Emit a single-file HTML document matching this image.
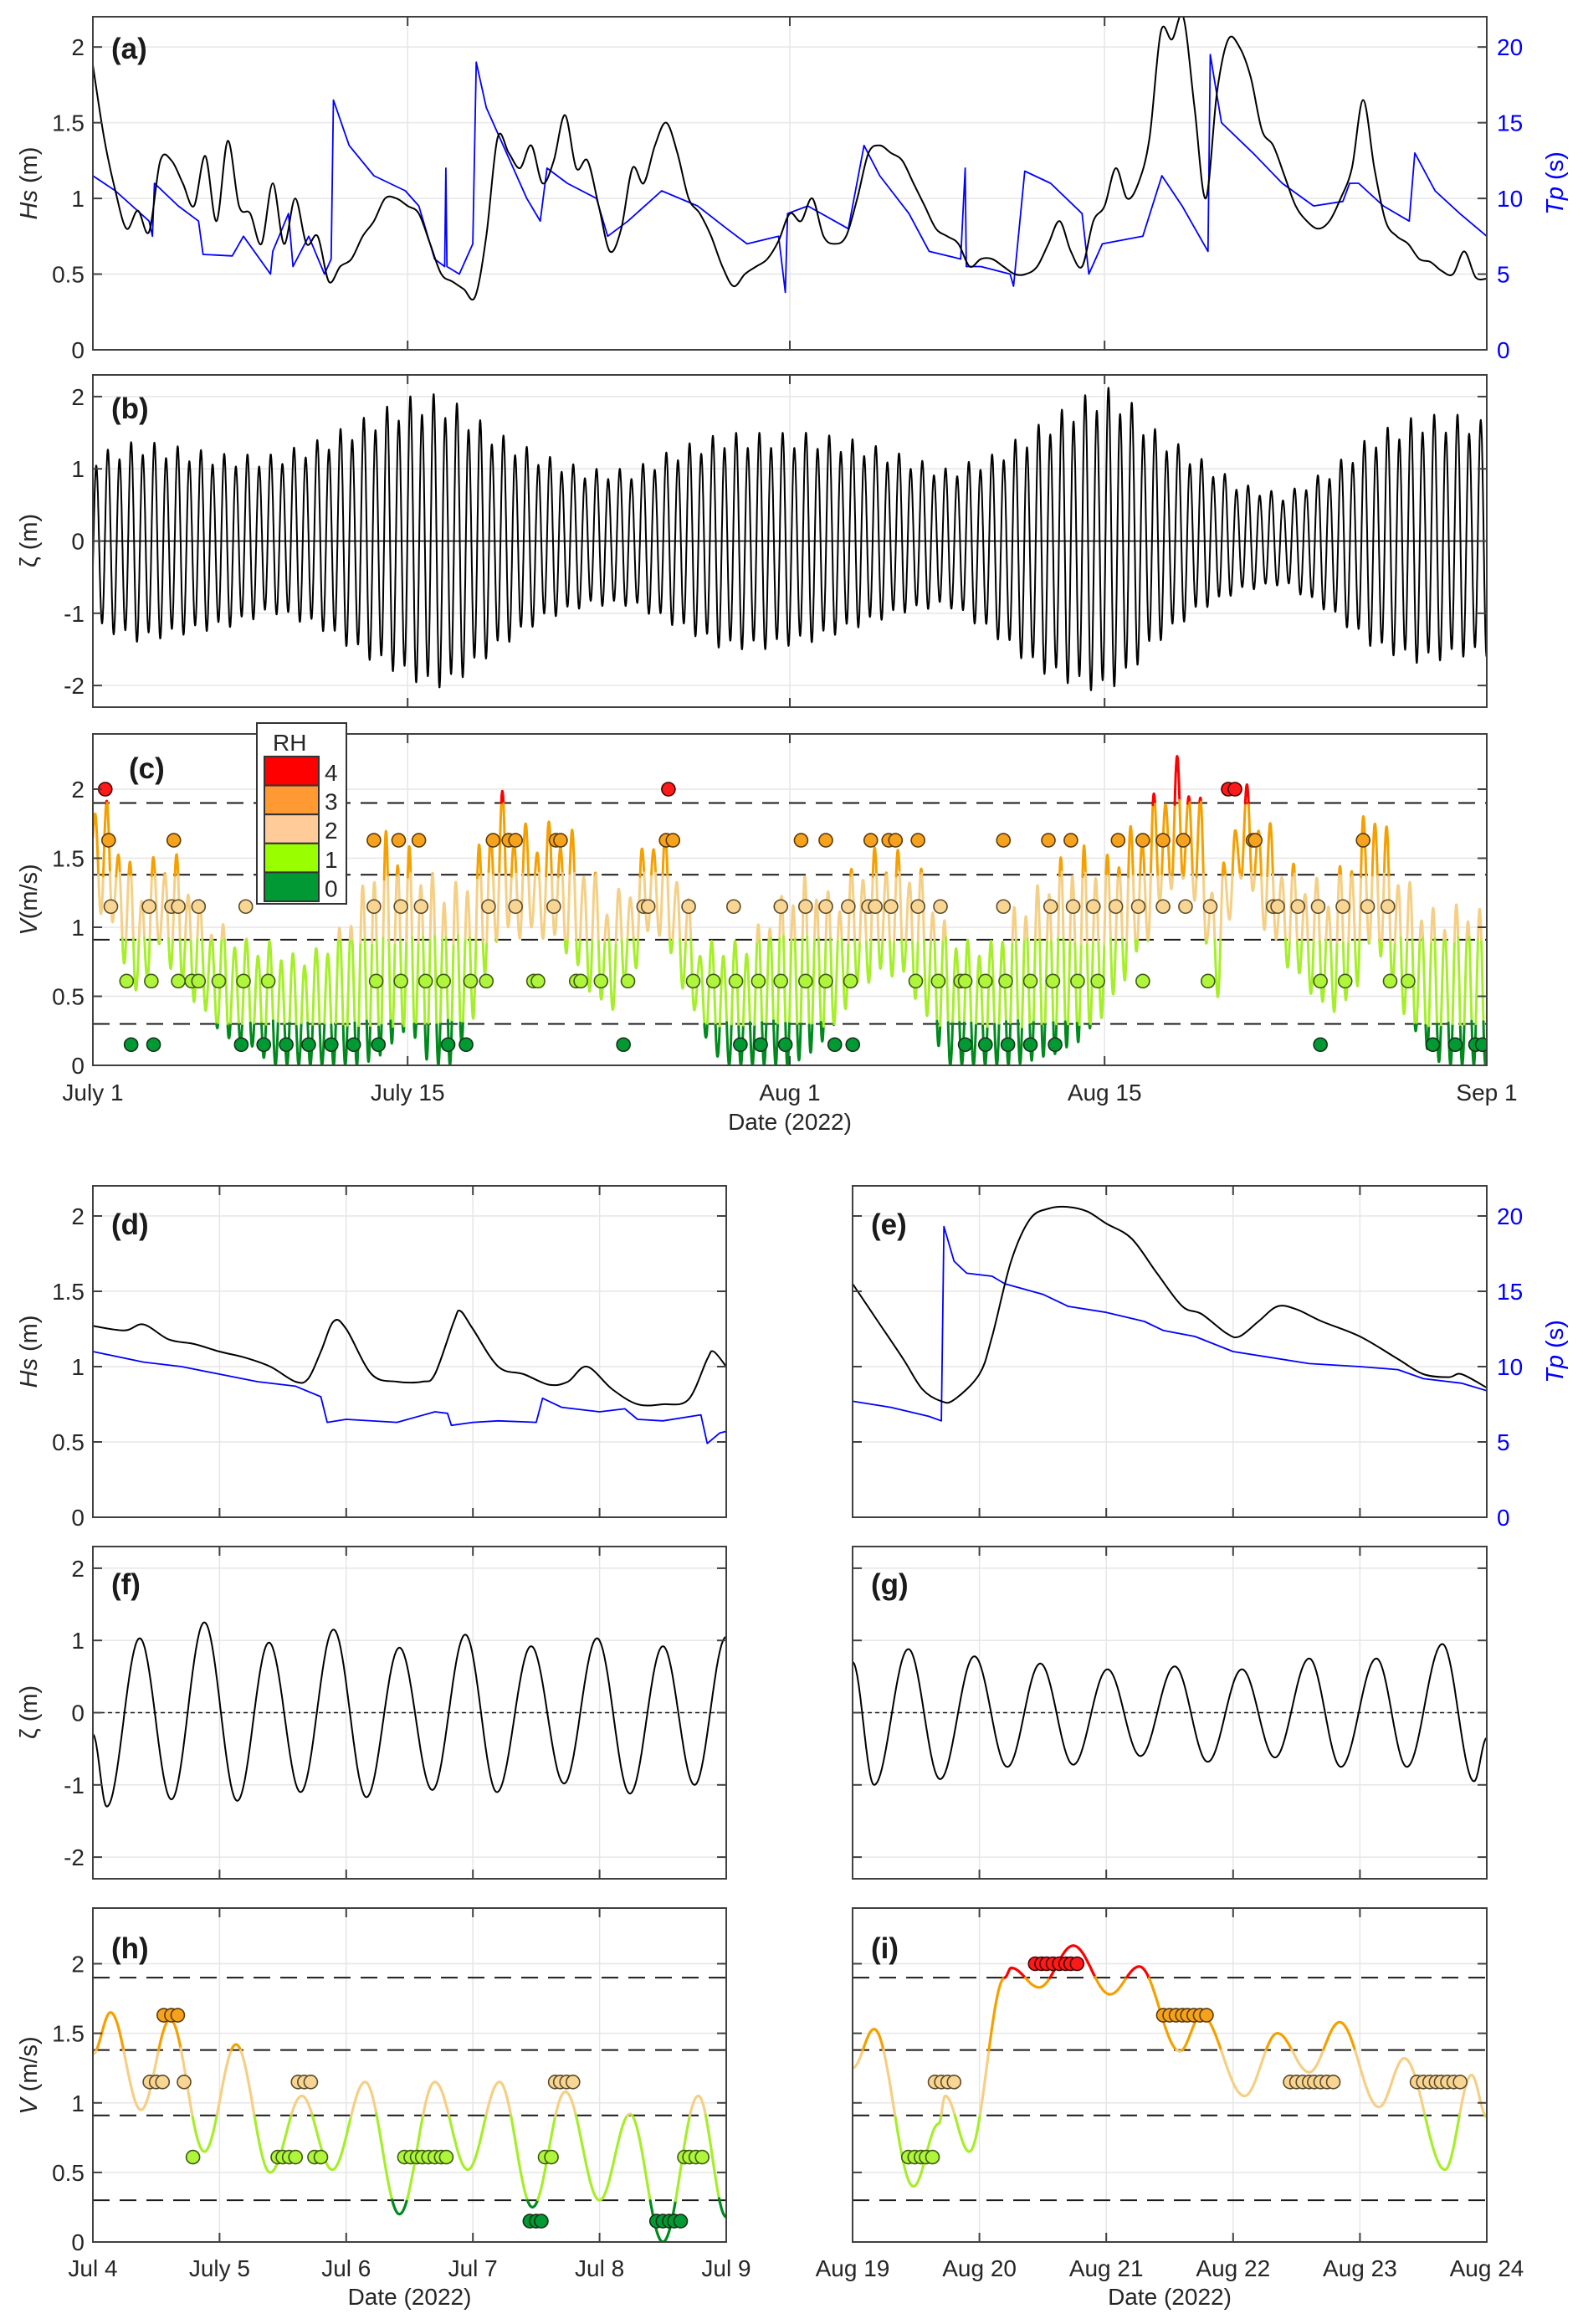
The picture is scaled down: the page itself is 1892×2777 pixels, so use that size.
<!DOCTYPE html>
<html><head><meta charset="utf-8"><title>Wave, tide and RH figure</title>
<style>
html,body{margin:0;padding:0;background:#fff;}
svg{display:block;font-family:"Liberation Sans",Arial,sans-serif;}
</style></head>
<body>
<svg id="fig" width="1892" height="2777" viewBox="0 0 1892 2777" xmlns="http://www.w3.org/2000/svg"></svg>
<script>
// ---------------- DATA ----------------
const hsTop = [1.88,1.4,1.05,0.8,0.92,0.78,1.25,1.25,1.1,0.95,1.28,0.85,1.38,0.95,0.9,0.7,1.1,0.7,1.0,0.7,0.75,0.45,0.55,0.6,0.75,0.85,1.0,1.0,0.95,0.9,0.7,0.5,0.45,0.4,0.35,0.75,1.4,1.3,1.2,1.35,1.1,1.25,1.55,1.2,1.25,0.95,0.65,0.8,1.2,1.1,1.35,1.5,1.3,1.0,0.9,0.75,0.55,0.42,0.5,0.55,0.6,0.72,0.9,0.85,1.0,0.75,0.7,0.75,1.0,1.3,1.35,1.3,1.25,1.1,0.95,0.8,0.75,0.7,0.55,0.6,0.6,0.55,0.5,0.5,0.55,0.7,0.85,0.65,0.55,0.85,0.95,1.2,1.0,1.1,1.4,2.1,2.05,2.2,1.6,1.0,1.7,2.05,2.0,1.8,1.45,1.35,1.15,0.95,0.85,0.8,0.85,1.0,1.2,1.65,1.2,0.85,0.75,0.7,0.6,0.58,0.52,0.5,0.65,0.48,0.47];
const hsTopStep = 0.5;
const tpTopDays = [0,1.0,2.5,2.65,2.74,3.8,4.7,4.9,6.2,6.7,7.9,8.0,8.7,8.9,9.6,10.3,10.6,10.7,11.4,12.5,13.9,14.5,15.2,15.65,15.7,15.75,16.3,16.9,17.05,17.5,18.4,19.3,19.9,20.2,21.1,22.4,22.9,23.8,25.3,26.9,28.2,29.1,30.5,30.8,30.9,31.8,33.6,34.3,35.0,36.3,37.2,38.6,38.8,38.85,39.5,40.8,40.95,41.45,42.6,44.0,44.3,44.9,46.7,47.55,48.45,49.6,49.7,50.2,51.6,52.9,54.3,55.6,55.9,56.3,57.4,58.55,58.8,59.7,60.8,62];
const tpTopVals = [11.5,10.5,8.5,7.5,11,9.5,8.5,6.3,6.2,7.5,5,6.5,9,5.5,7.5,5,6,16.5,13.5,11.5,10.5,9.5,6,5.5,12,5.5,5,7,19,16,13,10,8.5,12,11,10,7.5,8.5,10.5,9.5,8,7,7.5,3.8,9,9.5,8,13.5,11.5,9,6.5,6,12,5.5,5.5,5,4.2,11.8,11,9,5,7,7.5,11.5,9.5,6.5,19.5,15,13,11,9.5,9.8,11,11,9.5,8.5,13,10.5,9,7.5];
const tideEnvDays = [0,2,4,6,8,10,12,14,15,16,18,20,22,24,26,28,30,32,34,36,38,40,42,44,45,46,47,49,51,53,55,57,59,61,62];
const tideHigh = [1.2,1.4,1.3,1.2,1.2,1.4,1.7,2.0,2.05,1.95,1.5,1.2,1.0,1.0,1.3,1.5,1.5,1.5,1.4,1.2,1.0,1.2,1.6,2.0,2.15,2.0,1.6,1.2,0.8,0.65,1.0,1.5,1.75,1.75,1.65];
const tideLow = [-1.2,-1.4,-1.3,-1.2,-1.0,-1.2,-1.6,-1.9,-2.05,-2.0,-1.5,-1.1,-0.9,-0.9,-1.2,-1.5,-1.5,-1.4,-1.2,-1.0,-0.9,-1.3,-1.8,-2.05,-2.1,-1.9,-1.5,-1.0,-0.7,-0.6,-1.0,-1.5,-1.7,-1.6,-1.6];
const vMaxDaily = [2.1,1.8,1.3,1.6,1.5,1.1,1.0,0.9,0.9,0.8,0.85,1.0,1.3,1.7,1.6,1.4,1.3,1.5,2.05,1.75,1.75,1.8,1.5,1.2,1.4,1.8,1.5,0.9,0.9,0.9,1.1,1.3,1.4,1.2,1.5,1.6,1.55,1.4,1.0,0.9,0.9,1.15,1.3,1.5,1.6,1.5,1.7,1.9,2.25,2.2,1.2,2.1,1.9,1.5,1.4,1.3,1.6,2.0,1.5,1.2,1.1,1.2,1.1];
const vMinDaily = [1.3,1.0,0.5,0.9,0.6,0.4,0.2,0.15,0.0,0.0,0.0,0.0,0.0,0.1,0.3,0.0,0.0,0.4,1.0,1.0,1.0,0.9,0.6,0.4,0.7,1.1,0.7,0.3,0.0,0.0,0.0,0.0,0.1,0.3,0.6,0.7,0.7,0.4,0.0,0.0,0.0,0.0,0.05,0.1,0.2,0.4,0.7,1.0,1.4,1.3,0.5,1.5,1.1,0.8,0.6,0.4,0.5,1.0,0.5,0.2,0.0,0.0,0.0];
const rhLevels = [0.15,0.61,1.15,1.63,2.0];
const rh4Days = [0.55,25.6,50.5,50.8];
const rh3Days = [0.7,3.6,12.5,13.6,14.5,17.8,18.5,18.8,20.6,20.8,25.5,25.8,31.5,32.6,34.6,35.4,35.7,36.7,40.5,42.5,43.5,45.6,46.7,47.6,48.5,51.6,51.7,56.5];
const rh2Days = [0.8,2.5,3.5,3.8,4.7,6.8,12.5,13.7,14.6,17.6,18.8,20.5,24.5,24.7,26.5,28.5,30.6,31.7,32.6,33.6,34.5,34.8,35.5,36.7,37.7,40.5,42.6,43.6,44.5,45.5,46.5,47.6,48.6,49.7,52.5,52.7,53.6,54.5,55.6,56.7,57.6];
const rh1Days = [1.5,2.6,3.8,4.4,4.7,5.6,6.7,7.8,12.6,13.7,14.8,15.6,16.8,17.5,19.6,19.8,21.5,21.7,22.6,23.8,26.7,27.6,28.6,29.6,30.6,31.7,32.6,33.7,36.6,37.6,38.6,38.8,39.7,40.6,41.7,42.7,43.8,44.7,46.7,49.6,54.6,55.7,57.7,58.5];
const rh0Days = [1.7,2.7,6.6,7.6,8.6,9.6,10.6,11.6,12.7,15.8,16.6,23.6,28.8,29.7,30.8,33.0,33.8,38.8,39.7,40.7,41.7,42.8,54.6,59.6,60.6,61.5,61.8];
const hsDDays = [0,0.25,0.4,0.6,0.8,1.0,1.2,1.4,1.6,1.7,1.8,1.9,2.0,2.2,2.4,2.6,2.7,2.85,2.9,3.0,3.2,3.4,3.6,3.75,3.9,4.1,4.3,4.5,4.7,4.85,4.9,5.0];
const hsDVals = [1.27,1.24,1.28,1.18,1.15,1.1,1.06,1.0,0.9,0.92,1.1,1.3,1.25,0.95,0.9,0.9,0.95,1.3,1.37,1.25,1.0,0.95,0.88,0.9,1.0,0.85,0.75,0.75,0.78,1.05,1.1,1.0];
const tpDDays = [0,0.4,0.7,1.0,1.3,1.6,1.8,1.85,2.0,2.4,2.7,2.8,2.83,3.0,3.2,3.5,3.55,3.7,4.0,4.2,4.3,4.5,4.8,4.85,4.95,5.0];
const tpDVals = [11,10.3,10,9.5,9.0,8.7,8.0,6.3,6.5,6.3,7.0,6.9,6.1,6.3,6.4,6.3,7.9,7.3,7.0,7.2,6.5,6.4,6.8,4.9,5.6,5.7];
const hsEDays = [0,0.2,0.4,0.55,0.7,0.8,1.0,1.1,1.25,1.4,1.55,1.7,1.85,2.0,2.2,2.4,2.6,2.75,2.95,3.05,3.2,3.35,3.5,3.7,4.0,4.3,4.5,4.7,4.8,5.0];
const hsEVals = [1.55,1.3,1.05,0.85,0.77,0.78,0.95,1.2,1.7,1.98,2.05,2.06,2.03,1.95,1.85,1.62,1.4,1.35,1.22,1.2,1.3,1.4,1.38,1.3,1.2,1.05,0.95,0.93,0.95,0.86];
const tpEDays = [0,0.3,0.6,0.7,0.72,0.8,0.9,1.1,1.2,1.5,1.7,2.0,2.3,2.45,2.7,3.0,3.3,3.6,4.0,4.3,4.5,4.8,5.0];
const tpEVals = [7.7,7.3,6.7,6.4,19.3,17,16.2,16.0,15.5,14.8,14.0,13.6,13.0,12.4,12.0,11.0,10.6,10.2,10.0,9.8,9.2,8.9,8.4];
const tideFDays = [0,0.11,0.37,0.62,0.88,1.14,1.39,1.64,1.9,2.16,2.42,2.68,2.94,3.19,3.46,3.72,3.98,4.24,4.5,4.75,5.0];
const tideFVals = [-0.3,-1.3,1.03,-1.2,1.25,-1.22,0.97,-1.1,1.15,-1.17,0.9,-1.07,1.08,-1.1,0.92,-0.98,1.03,-1.12,0.92,-1.0,1.05];
const tideGDays = [0,0.17,0.44,0.69,0.96,1.22,1.48,1.74,2.01,2.27,2.54,2.8,3.07,3.33,3.6,3.85,4.13,4.37,4.65,4.9,5.0];
const tideGVals = [0.7,-1.0,0.88,-0.92,0.78,-0.75,0.68,-0.72,0.6,-0.6,0.64,-0.68,0.6,-0.62,0.75,-0.75,0.75,-0.75,0.95,-0.95,-0.35];
const vHDays = [0,0.14,0.38,0.61,0.88,1.13,1.4,1.65,1.89,2.15,2.42,2.7,2.96,3.21,3.47,3.73,4.0,4.24,4.5,4.78,5.0];
const vHVals = [1.35,1.65,0.95,1.6,0.65,1.42,0.5,1.05,0.52,1.15,0.2,1.15,0.52,1.15,0.25,1.08,0.3,0.92,0.0,1.05,0.18];
const rhH3Days = [0.56,0.62,0.67];
const rhH2Days = [0.45,0.5,0.55,0.72,1.62,1.67,1.72,3.65,3.69,3.74,3.79];
const rhH1Days = [0.79,1.46,1.5,1.55,1.6,1.75,1.8,2.46,2.51,2.56,2.6,2.65,2.7,2.75,2.79,3.57,3.62,4.67,4.71,4.76,4.81];
const rhH0Days = [3.45,3.5,3.54,4.45,4.5,4.55,4.59,4.64];
const vIDays = [0,0.17,0.48,0.68,0.73,0.92,1.2,1.25,1.47,1.74,2.03,2.26,2.58,2.75,3.09,3.35,3.6,3.84,4.15,4.35,4.67,4.88,5.0];
const vIVals = [1.25,1.53,0.4,0.85,1.05,0.65,1.9,1.97,1.83,2.13,1.78,1.98,1.37,1.63,1.05,1.5,1.22,1.58,0.97,1.32,0.52,1.2,0.9];
const rhI4Days = [1.44,1.49,1.53,1.58,1.63,1.68,1.72,1.77];
const rhI3Days = [2.45,2.5,2.55,2.6,2.64,2.69,2.74,2.79];
const rhI2Days = [0.65,0.7,0.75,0.8,3.45,3.5,3.55,3.6,3.64,3.69,3.74,3.79,4.45,4.5,4.55,4.6,4.64,4.69,4.74,4.79];
const rhI1Days = [0.44,0.49,0.54,0.58,0.63];
const rhThresholds = [0.3,0.91,1.38,1.9];
const topTickDays = [0,14,31,45,62];
const topTickLabels = ['July 1','July 15','Aug 1','Aug 15','Sep 1'];
const dTickLabels = ['Jul 4','July 5','Jul 6','Jul 7','Jul 8','Jul 9'];
const eTickLabels = ['Aug 19','Aug 20','Aug 21','Aug 22','Aug 23','Aug 24'];

// ---------------- DRAWING ----------------
const NS = 'http://www.w3.org/2000/svg';
const svg = document.getElementById('fig');
const TXT = '#262626';
const FS = 28;
const LINECOL = ['#008a1e','#a6ee2a','#f5cf85','#f5a000','#ff0000'];
const FILLCOL = ['#009933','#aef53c','#f8d592','#f7a21c','#ff1a1a'];
const EDGECOL = ['#143014','#3d5a10','#5a4a2a','#5a3a08','#4a0000'];
let clipId = 0;

function el(tag, attrs, parent) {
  const e = document.createElementNS(NS, tag);
  for (const k in attrs) e.setAttribute(k, attrs[k]);
  (parent || svg).appendChild(e);
  return e;
}
function lin(d0, d1, r0, r1) { return v => r0 + (v - d0) * (r1 - r0) / (d1 - d0); }
function interp(xs, ys, x) {
  if (x <= xs[0]) return ys[0];
  for (let i = 1; i < xs.length; i++) if (x <= xs[i]) return ys[i-1] + (ys[i]-ys[i-1]) * (x - xs[i-1]) / (xs[i]-xs[i-1]);
  return ys[ys.length-1];
}
function cosSample(ts, vs, t0, t1, n) {
  const X = [], Y = [];
  for (let i = 0; i <= n; i++) {
    const t = t0 + (t1 - t0) * i / n;
    let k = 0;
    while (k < ts.length - 2 && t > ts[k+1]) k++;
    const f = Math.max(0, Math.min(1, (t - ts[k]) / (ts[k+1] - ts[k])));
    X.push(t); Y.push(vs[k] + (vs[k+1] - vs[k]) * (1 - Math.cos(Math.PI * f)) / 2);
  }
  return [X, Y];
}
function envExtrema(envD, hi, lo, t0, t1, period, phase, ineqH) {
  const ts = [], vs = [];
  let k = 0;
  for (let t = phase - period; t <= t1 + period; t += period / 2) {
    const cyc = Math.floor(k / 2);
    const v = (k % 2 === 0) ? interp(envD, hi, t) * (cyc % 2 ? ineqH : 1) : interp(envD, lo, t) * (cyc % 2 ? 0.92 : 1);
    ts.push(t); vs.push(v); k++;
  }
  return [ts, vs];
}
function smoothPath(X, Y, ax) {
  const P = X.map((x, i) => [ax.sx(x), ax.sy(Y[i])]);
  let d = 'M' + P[0][0].toFixed(1) + ',' + P[0][1].toFixed(1);
  for (let i = 0; i < P.length - 1; i++) {
    const p0 = P[Math.max(0, i-1)], p1 = P[i], p2 = P[i+1], p3 = P[Math.min(P.length-1, i+2)];
    const c1 = [p1[0] + (p2[0]-p0[0])/6, p1[1] + (p2[1]-p0[1])/6];
    const c2 = [p2[0] - (p3[0]-p1[0])/6, p2[1] - (p3[1]-p1[1])/6];
    d += 'C' + c1[0].toFixed(1) + ',' + c1[1].toFixed(1) + ' ' + c2[0].toFixed(1) + ',' + c2[1].toFixed(1) + ' ' + p2[0].toFixed(1) + ',' + p2[1].toFixed(1);
  }
  return d;
}
function pathD(X, Y, ax) {
  let d = '';
  for (let i = 0; i < X.length; i++) d += (i ? 'L' : 'M') + ax.sx(X[i]).toFixed(1) + ',' + ax.sy(Y[i]).toFixed(1);
  return d;
}
function cat(v) { let c = 0; for (const t of rhThresholds) if (v >= t) c++; return c; }

function makeAxes(name, x0, x1, y0, y1, xd, yd) {
  const g = el('g', {});
  
  
  const id = 'clip' + (clipId++);
  const cp = el('clipPath', { id: id }, g);
  el('rect', { x: x0, y: y0, width: x1 - x0, height: y1 - y0 }, cp);
  return { g, x0, x1, y0, y1, sx: lin(xd[0], xd[1], x0, x1), sy: lin(yd[0], yd[1], y1, y0), clip: 'url(#' + id + ')' };
}
function grid(ax, xt, yt) {
  const gg = el('g', { stroke: '#e6e6e6', 'stroke-width': 1.5 }, ax.g);
  
  
  xt.forEach(v => el('line', { x1: ax.sx(v), x2: ax.sx(v), y1: ax.y0, y2: ax.y1 }, gg));
  yt.forEach(v => el('line', { x1: ax.x0, x2: ax.x1, y1: ax.sy(v), y2: ax.sy(v) }, gg));
}
function frame(ax, xt, yt, rightTicksY) {
  const gf = el('g', { stroke: '#404040', 'stroke-width': 2, fill: 'none' }, ax.g);
  
  
  el('rect', { x: ax.x0, y: ax.y0, width: ax.x1 - ax.x0, height: ax.y1 - ax.y0 }, gf);
  const L = 11;
  xt.forEach(v => { const x = ax.sx(v); el('line', { x1: x, x2: x, y1: ax.y1, y2: ax.y1 - L }, gf); el('line', { x1: x, x2: x, y1: ax.y0, y2: ax.y0 + L }, gf); });
  yt.forEach(v => { const y = ax.sy(v); el('line', { x1: ax.x0, x2: ax.x0 + L, y1: y, y2: y }, gf); });
  (rightTicksY || yt).forEach(y => { el('line', { x1: ax.x1, x2: ax.x1 - L, y1: y, y2: y }, gf); });
}
function text(str, x, y, attrs, parent, name) {
  const t = el('text', Object.assign({ x: x, y: y, fill: TXT, 'font-size': FS }, attrs || {}), parent);
  t.textContent = str;
  
  
  return t;
}
function yTickLabels(ax, vals, labels, right, color) {
  vals.forEach((v, i) => {
    if (right) text(labels[i], ax.x1 + 12, ax.sy(v) + 10, { fill: color || TXT }, ax.g, 'right-y-tick-label');
    else text(labels[i], ax.x0 - 10, ax.sy(v) + 10, { 'text-anchor': 'end' }, ax.g, 'y-tick-label');
  });
}
function yTitle(parts, x, yc, parent, name, color) {
  const t = el('text', { transform: 'translate(' + x + ',' + yc + ') rotate(-90)', 'text-anchor': 'middle', fill: color || TXT, 'font-size': 29 }, parent);
  parts.forEach(p => { const s = el('tspan', p[1] ? { 'font-style': 'italic' } : {}, t); s.textContent = p[0]; });
  
  
}
function panelLabel(str, x, y, parent) {
  text(str, x, y, { 'font-size': 35, 'font-weight': 'bold', fill: '#1a1a1a' }, parent, 'panel-label');
}
function line(ax, X, Y, color, w, name, smooth) {
  const p = el('path', { d: smooth ? smoothPath(X, Y, ax) : pathD(X, Y, ax), fill: 'none', stroke: color, 'stroke-width': w, 'clip-path': ax.clip, 'stroke-linejoin': 'round' }, ax.g);
  
  
  return p;
}
function coloredV(ax, X, Y, w, name) {
  const g = el('g', { 'clip-path': ax.clip, fill: 'none', 'stroke-width': w, 'stroke-linejoin': 'round', 'stroke-linecap': 'round' }, ax.g);
  
  
  let start = 0, cur = cat((Y[0] + Y[1]) / 2);
  for (let i = 1; i <= X.length; i++) {
    const c = i < X.length ? cat((Y[i-1] + Y[i]) / 2) : -1;
    if (c !== cur) {
      const p = el('path', { d: pathD(X.slice(start, i), Y.slice(start, i), ax), stroke: LINECOL[cur] }, g);
      
      
      start = i - 1; cur = c;
    }
  }
}
function dashes(ax) {
  rhThresholds.forEach(v => {
    const l = el('line', { x1: ax.x0, x2: ax.x1, y1: ax.sy(v), y2: ax.sy(v), stroke: '#1a1a1a', 'stroke-width': 2, 'stroke-dasharray': '20 12' }, ax.g);
    
    
  });
}
function markers(ax, days, level, c, r) {
  days.forEach(d => {
    const m = el('circle', { cx: ax.sx(d), cy: ax.sy(rhLevels[level]), r: r, fill: FILLCOL[c], stroke: EDGECOL[c], 'stroke-width': 1.6, 'clip-path': ax.clip }, ax.g);
    
    
  });
}

// ----- Panel (a)
const axA = makeAxes('panel-a', 111, 1777, 20, 418, [0, 62], [0, 2.2]);
const hsYT = [0, 0.5, 1, 1.5, 2];
grid(axA, topTickDays, hsYT);
const hsTopDays = hsTop.map((v, i) => i * hsTopStep);
const tpScale = lin(0, 22, 418, 20);
line(axA, tpTopDays, tpTopVals.map(v => v / 10), '#0000ff', 1.8, 'tp-line');
line(axA, hsTopDays, hsTop, '#000', 2, 'hs-line', true);
frame(axA, topTickDays, hsYT, [0, 5, 10, 15, 20].map(tpScale));
yTickLabels(axA, hsYT, ['0', '0.5', '1', '1.5', '2']);
yTickLabels(axA, [0, 0.5, 1, 1.5, 2], ['0', '5', '10', '15', '20'], true, '#0000ff');
yTitle([['Hs', true], [' (m)', false]], 44, 219, axA.g, 'hs-axis-title');
yTitle([['Tp', true], [' (s)', false]], 1868, 219, axA.g, 'tp-axis-title', '#0000ff');
panelLabel('(a)', 133, 70, axA.g);

// ----- Panel (b)
const axB = makeAxes('panel-b', 111, 1777, 448, 845, [0, 62], [-2.3, 2.3]);
const zYT = [-2, -1, 0, 1, 2];
grid(axB, topTickDays, zYT);
const [tbT, tbV] = envExtrema(tideEnvDays, tideHigh, tideLow, 0, 62, 0.5175, 0.15, 0.86);
const [bX, bY] = cosSample(tbT, tbV, 0, 62, 7000);
line(axB, bX, bY, '#000', 2, 'tide-line');
const z0 = el('line', { x1: 111, x2: 1777, y1: axB.sy(0), y2: axB.sy(0), stroke: '#000', 'stroke-width': 1.5 }, axB.g);


frame(axB, topTickDays, zYT, zYT.map(axB.sy));
yTickLabels(axB, zYT, ['-2', '-1', '0', '1', '2']);
yTitle([['ζ', false], [' (m)', false]], 44, 646, axB.g, 'zeta-axis-title');
panelLabel('(b)', 133, 500, axB.g);

// ----- Panel (c)
const axC = makeAxes('panel-c', 111, 1777, 877, 1273, [0, 62], [0, 2.4]);
const vYT = [0, 0.5, 1, 1.5, 2];
grid(axC, topTickDays, vYT);
dashes(axC);
const vDays = vMaxDaily.map((v, i) => i);
const [tcT, tcV] = envExtrema(vDays, vMaxDaily, vMinDaily, 0, 62, 0.5175, 0.1, 0.88);
const [cX, cY] = cosSample(tcT, tcV, 0, 62, 7000);
coloredV(axC, cX, cY, 3, 'velocity-line');
markers(axC, rh0Days, 0, 0, 8);
markers(axC, rh1Days, 1, 1, 8);
markers(axC, rh2Days, 2, 2, 8);
markers(axC, rh3Days, 3, 3, 8);
markers(axC, rh4Days, 4, 4, 8);
frame(axC, topTickDays, vYT, vYT.map(axC.sy));
yTickLabels(axC, vYT, ['0', '0.5', '1', '1.5', '2']);
yTitle([['V', true], ['(m/s)', false]], 44, 1075, axC.g, 'velocity-axis-title');
panelLabel('(c)', 154, 930, axC.g);
topTickDays.forEach((d, i) => text(topTickLabels[i], axC.sx(d), 1315, { 'text-anchor': 'middle' }, axC.g, 'x-tick-label'));
text('Date (2022)', 944, 1350, { 'text-anchor': 'middle' }, axC.g, 'x-axis-title');
const lg = el('g', {}, axC.g);


el('rect', { x: 307, y: 864, width: 107, height: 216, fill: '#fff', stroke: '#333', 'stroke-width': 2 }, lg);
text('RH', 326, 897, { 'font-size': 28 }, lg, 'legend-title');
const legCols = ['#ff0000', '#ff9933', '#ffcc99', '#99ff00', '#009933'];
['4', '3', '2', '1', '0'].forEach((lab, i) => {
  const r = el('rect', { x: 316, y: 904 + i * 34.6, width: 65, height: 34.6, fill: legCols[i], stroke: '#333', 'stroke-width': 2 }, lg);
  
  
  text(lab, 388, 904 + i * 34.6 + 29, { 'font-size': 28 }, lg, 'legend-label');
});

// ----- Lower panels
const dayT = [0, 1, 2, 3, 4, 5];
function lowerPanels(side) {
  const x0 = side === 'L' ? 111 : 1019, x1 = side === 'L' ? 868 : 1777;
  const L = side === 'L';
  const a1 = makeAxes(L ? 'panel-d' : 'panel-e', x0, x1, 1417, 1813, [0, 5], [0, 2.2]);
  grid(a1, dayT, hsYT);
  line(a1, L ? tpDDays : tpEDays, (L ? tpDVals : tpEVals).map(v => v / 10), '#0000ff', 1.8, 'tp-line');
  line(a1, L ? hsDDays : hsEDays, L ? hsDVals : hsEVals, '#000', 2, 'hs-line', true);
  frame(a1, dayT, hsYT, hsYT.map(a1.sy));
  if (L) { yTickLabels(a1, hsYT, ['0', '0.5', '1', '1.5', '2']); yTitle([['Hs', true], [' (m)', false]], 44, 1615, a1.g, 'hs-axis-title'); }
  else { yTickLabels(a1, [0, 0.5, 1, 1.5, 2], ['0', '5', '10', '15', '20'], true, '#0000ff'); yTitle([['Tp', true], [' (s)', false]], 1868, 1615, a1.g, 'tp-axis-title', '#0000ff'); }
  panelLabel(L ? '(d)' : '(e)', x0 + 22, 1475, a1.g);
  const a2 = makeAxes(L ? 'panel-f' : 'panel-g', x0, x1, 1848, 2245, [0, 5], [-2.3, 2.3]);
  grid(a2, dayT, zYT);
  const zl = el('line', { x1: x0, x2: x1, y1: a2.sy(0), y2: a2.sy(0), stroke: '#1a1a1a', 'stroke-width': 1.6, 'stroke-dasharray': '5 4' }, a2.g);
  
  
  const [fx, fy] = cosSample(L ? tideFDays : tideGDays, L ? tideFVals : tideGVals, 0, 5, 800);
  line(a2, fx, fy, '#000', 2, 'tide-line');
  frame(a2, dayT, zYT, zYT.map(a2.sy));
  if (L) { yTickLabels(a2, zYT, ['-2', '-1', '0', '1', '2']); yTitle([['ζ', false], [' (m)', false]], 44, 2046, a2.g, 'zeta-axis-title'); }
  panelLabel(L ? '(f)' : '(g)', x0 + 22, 1905, a2.g);
  const a3 = makeAxes(L ? 'panel-h' : 'panel-i', x0, x1, 2280, 2679, [0, 5], [0, 2.4]);
  grid(a3, dayT, vYT);
  dashes(a3);
  const [hx, hy] = cosSample(L ? vHDays : vIDays, L ? vHVals : vIVals, 0, 5, 800);
  coloredV(a3, hx, hy, 3.2, 'velocity-line');
  if (L) { markers(a3, rhH0Days, 0, 0, 8); markers(a3, rhH1Days, 1, 1, 8); markers(a3, rhH2Days, 2, 2, 8); markers(a3, rhH3Days, 3, 3, 8); }
  else { markers(a3, rhI1Days, 1, 1, 8); markers(a3, rhI2Days, 2, 2, 8); markers(a3, rhI3Days, 3, 3, 8); markers(a3, rhI4Days, 4, 4, 8); }
  frame(a3, dayT, vYT, vYT.map(a3.sy));
  if (L) { yTickLabels(a3, vYT, ['0', '0.5', '1', '1.5', '2']); yTitle([['V', true], [' (m/s)', false]], 44, 2480, a3.g, 'velocity-axis-title'); }
  panelLabel(L ? '(h)' : '(i)', x0 + 22, 2340, a3.g);
  (L ? dTickLabels : eTickLabels).forEach((lab, i) => text(lab, a3.sx(i), 2720, { 'text-anchor': 'middle' }, a3.g, 'x-tick-label'));
  text('Date (2022)', (x0 + x1) / 2, 2754, { 'text-anchor': 'middle' }, a3.g, 'x-axis-title');
}
lowerPanels('L');
lowerPanels('R');
</script>
</body></html>
